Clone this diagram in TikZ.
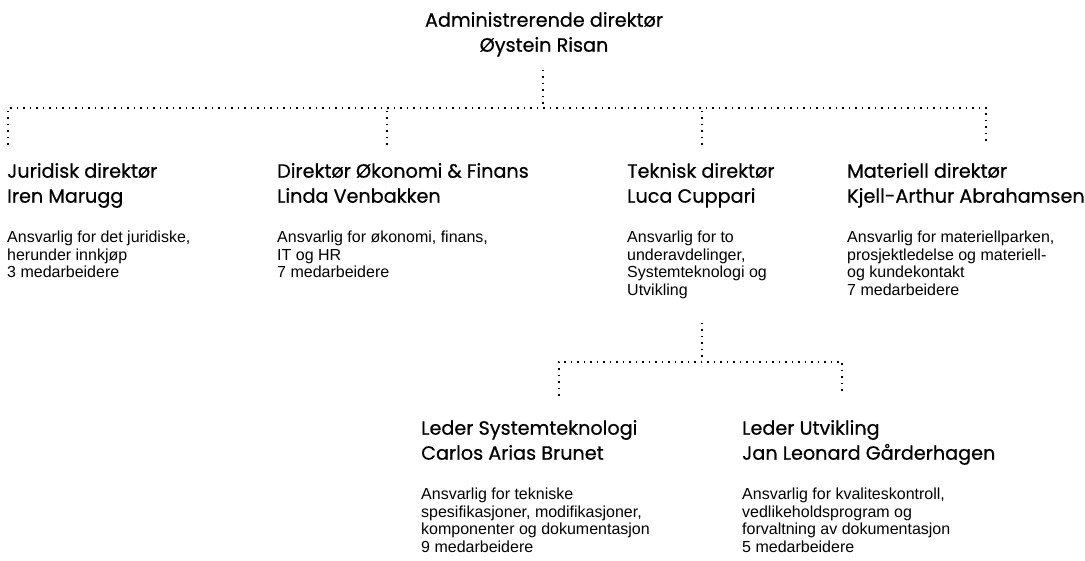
\documentclass[tikz,border=0pt]{standalone}
\usepackage{fontspec}
\newfontfamily\headfont{Poppins}[FakeBold=0.6]
\newfontfamily\bodyfont{Liberation Sans}
\usetikzlibrary{positioning}

\begin{document}
\begin{tikzpicture}[
  x=1pt,y=-1pt,
  node distance=20pt and 0pt,
  head/.style={font=\headfont\fontsize{19.2}{25}\selectfont,align=left,inner sep=0pt,anchor=north west},
  info/.style={font=\bodyfont\fontsize{16}{17.5}\selectfont,align=left,inner sep=0pt},
  link/.style={line width=1.5pt,dash pattern=on 1.5pt off 5pt}
]
\useasboundingbox (0,0) rectangle (1085,561);
\node[head,anchor=north,align=center] (adm) at (544,9) {\strut Administrerende direktør\\Øystein Risan\strut};

\node[head] (jurH) at (7,160) {\strut Juridisk direktør\\Iren Marugg\strut};
\node[info,below=of jurH.south west,anchor=north west] (jur) {\strut Ansvarlig for det juridiske,\\herunder innkjøp\\3 medarbeidere\strut};
\node[head] (okoH) at (277,160) {\strut Direktør Økonomi \& Finans\\Linda Venbakken\strut};
\node[info,below=of okoH.south west,anchor=north west] (oko) {\strut Ansvarlig for økonomi, finans,\\IT og HR\\7 medarbeidere\strut};
\node[head] (tekH) at (627,160) {\strut Teknisk direktør\\Luca Cuppari\strut};
\node[info,below=of tekH.south west,anchor=north west] (tek) {\strut Ansvarlig for to\\underavdelinger,\\Systemteknologi og\\Utvikling\strut};
\node[head] (matH) at (847,160) {\strut Materiell direktør\\Kjell-Arthur Abrahamsen\strut};
\node[info,below=of matH.south west,anchor=north west] (mat) {\strut Ansvarlig for materiellparken,\\prosjektledelse og materiell-\\og kundekontakt\\7 medarbeidere\strut};

\node[head] (sysH) at (421,417) {\strut Leder Systemteknologi\\Carlos Arias Brunet\strut};
\node[info,below=of sysH.south west,anchor=north west] (sys) {\strut Ansvarlig for tekniske\\spesifikasjoner, modifikasjoner,\\komponenter og dokumentasjon\\9 medarbeidere\strut};
\node[head] (utvH) at (742,417) {\strut Leder Utvikling\\Jan Leonard Gårderhagen\strut};
\node[info,below=of utvH.south west,anchor=north west] (utv) {\strut Ansvarlig for kvaliteskontroll,\\vedlikeholdsprogram og\\forvaltning av dokumentasjon\\5 medarbeidere\strut};

\coordinate (bus) at (543,108);
\coordinate (jurC) at (8,145);
\coordinate (okoC) at (387,145);
\coordinate (tekC) at (702,145);
\coordinate (matC) at (986,145);
\coordinate (sub) at (702,362);
\coordinate (sysC) at (559,396);
\coordinate (utvC) at (842,396);

\draw[link] (bus |- 0,70) -- (bus);
\draw[link] (jurC) -- (jurC |- bus) -- (matC |- bus) -- (matC);
\draw[link] (okoC) -- (okoC |- bus);
\draw[link] (tekC) -- (tekC |- bus);
\draw[link] (sub |- 0,323) -- (sub);
\draw[link] (sysC) -- (sysC |- sub) -- (utvC |- sub) -- (utvC);
\end{tikzpicture}
\end{document}
